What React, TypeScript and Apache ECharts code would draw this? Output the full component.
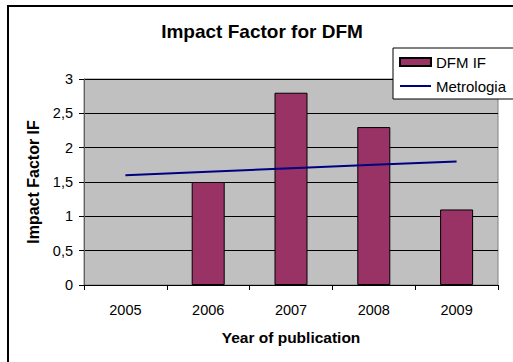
import React, { useEffect, useRef } from "react";
import * as echarts from "echarts";

const categories = ["2005", "2006", "2007", "2008", "2009"];
const dfmIF: (number | string)[] = ["-", 1.5, 2.8, 2.3, 1.1];
const metrologia = [1.6, 1.65, 1.7, 1.75, 1.8];
const titleText = "Impact Factor for DFM";
const xName = "Year of publication";
const yName = "Impact Factor IF";

const FONT = "'Liberation Sans', Arial, sans-serif";

export default function App() {
  const ref = useRef<HTMLDivElement>(null);
  useEffect(() => {
    if (!ref.current) return;
    const chart = echarts.init(ref.current, undefined, { renderer: "svg" });
    chart.setOption({
      animation: false,
      backgroundColor: "#ffffff",
      textStyle: { fontFamily: FONT },
      title: {
        text: titleText,
        left: 262,
        textAlign: "center",
        top: 22,
        padding: 0,
        textStyle: { fontSize: 19, fontWeight: "bold", color: "#000", fontFamily: FONT },
      },
      graphic: [
        {
          type: "rect",
          shape: { x: 8, y: 6, width: 600, height: 400 },
          style: { fill: "none", stroke: "#000", lineWidth: 2 },
          silent: true,
          z: 0,
        },
      ],
      legend: {
        orient: "vertical",
        left: 393,
        top: 48,
        padding: [6, 8, 5, 6],
        itemGap: 8,
        itemWidth: 31,
        itemHeight: 8,
        backgroundColor: "#ffffff",
        borderColor: "#000",
        borderWidth: 1,
        textStyle: { fontSize: 15, lineHeight: 16, color: "#000", fontFamily: FONT },
        data: [
          { name: "DFM IF", icon: "rect" },
          { name: "Metrologia", itemStyle: { color: "transparent", borderWidth: 0 } },
        ],
      },
      grid: {
        left: 84,
        top: 79,
        right: 15,
        bottom: 77,
        show: true,
        backgroundColor: "#C0C0C0",
        borderColor: "#808080",
        borderWidth: 1,
      },
      xAxis: {
        type: "category",
        data: categories,
        name: xName,
        nameLocation: "middle",
        nameGap: 44,
        nameTextStyle: { fontSize: 15.5, fontWeight: "bold", color: "#000", fontFamily: FONT },
        axisLine: { show: true, lineStyle: { color: "#000", width: 1 } },
        axisTick: { show: true, length: 5, lineStyle: { color: "#000" } },
        axisLabel: { fontSize: 14.5, color: "#000", margin: 17, fontFamily: FONT },
        splitLine: { show: false },
      },
      yAxis: {
        type: "value",
        min: 0,
        max: 3,
        interval: 0.5,
        name: yName,
        nameLocation: "middle",
        nameGap: 43,
        nameTextStyle: { fontSize: 16, fontWeight: "bold", color: "#000", fontFamily: FONT },
        axisLine: { show: true, lineStyle: { color: "#606060", width: 1 } },
        axisTick: { show: true, length: 5, lineStyle: { color: "#000" } },
        axisLabel: {
          fontSize: 14.5,
          color: "#000",
          margin: 11,
          fontFamily: FONT,
          formatter: (v: number) => String(v).replace(".", ","),
        },
        splitLine: { show: true, lineStyle: { color: "#000", width: 1 } },
      },
      series: [
        {
          name: "DFM IF",
          type: "bar",
          data: dfmIF,
          barWidth: 33,
          itemStyle: { color: "#993366", borderColor: "#000", borderWidth: 1 },
          z: 2,
        },
        {
          name: "Metrologia",
          type: "line",
          data: metrologia,
          symbol: "none",
          lineStyle: { color: "#000080", width: 2 },
          itemStyle: { color: "#000080" },
          z: 3,
        },
      ],
    });
    return () => chart.dispose();
  }, []);
  return (
    <div
      ref={ref}
      style={{ position: "fixed", left: 0, top: 0, width: 513, height: 362 }}
    />
  );
}
